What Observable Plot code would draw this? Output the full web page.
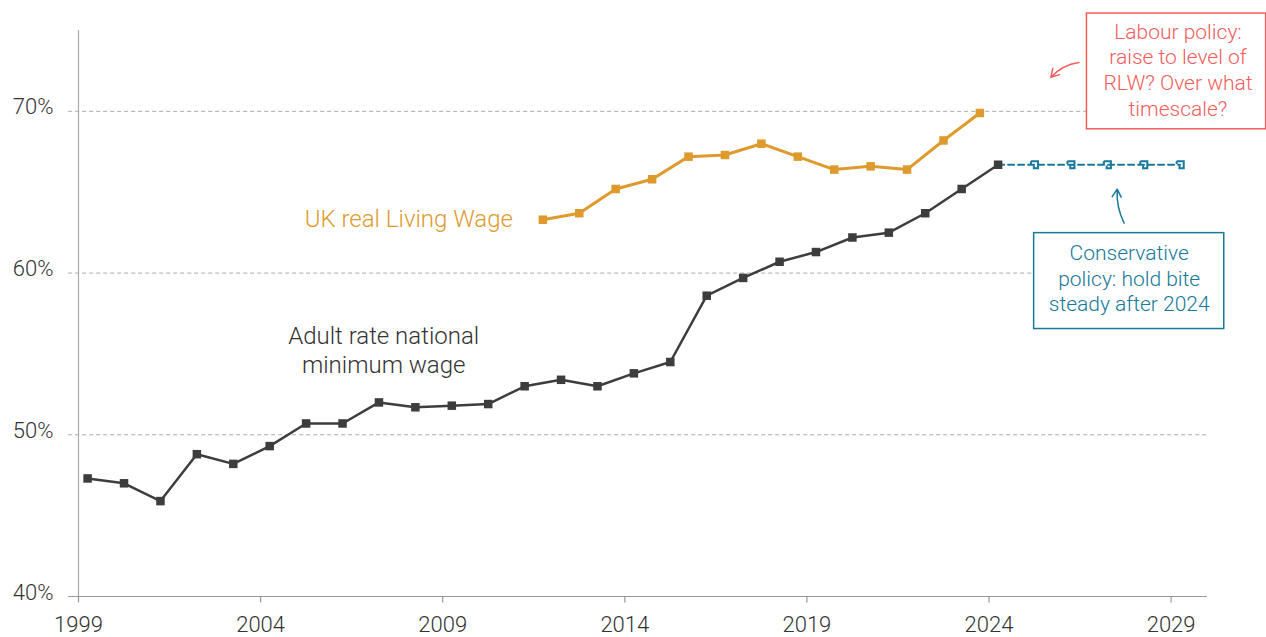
<!DOCTYPE html>
<html><head><meta charset="utf-8">
<script src="https://cdn.jsdelivr.net/npm/d3@7"></script>
<script src="https://cdn.jsdelivr.net/npm/@observablehq/plot@0.6"></script>
<style>
html,body{margin:0;padding:0;background:#fff;}
svg{font-family:Roboto,"Liberation Sans",sans-serif;}
</style></head>
<body><div id="chart"></div>
<script>
const mwYears = [1999,2000,2001,2002,2003,2004,2005,2006,2007,2008,2009,2010,2011,2012,2013,2014,2015,2016,2017,2018,2019,2020,2021,2022,2023,2024];
const mwValues = [47.3,47.0,45.9,48.8,48.2,49.3,50.7,50.7,52.0,51.7,51.8,51.9,53.0,53.4,53.0,53.8,54.5,58.6,59.7,60.7,61.3,62.2,62.5,63.7,65.2,66.7];
const lwYears = [2011,2012,2013,2014,2015,2016,2017,2018,2019,2020,2021,2022,2023];
const lwValues = [63.3,63.7,65.2,65.8,67.2,67.3,68.0,67.2,66.4,66.6,66.4,68.2,69.9];
const projYears = [2024,2025,2026,2027,2028,2029];
const projValues = [66.7,66.7,66.7,66.7,66.7,66.7];
const xTicks = [1999,2004,2009,2014,2019,2024,2029];
const yTicks = [40,50,60,70];
const gridValues = [50,60,70];
const labelLW = ["UK real Living Wage"];
const labelMW = ["Adult rate national\nminimum wage"];
const labourText = ["Labour policy:\nraise to level of\nRLW? Over what\ntimescale?"];
const consText = ["Conservative\npolicy: hold bite\nsteady after 2024"];

const mw = mwYears.map((y,i)=>({x:y+0.25, v:mwValues[i]}));
const lw = lwYears.map((y,i)=>({x:y+0.75, v:lwValues[i]}));
const proj = projYears.map((y,i)=>({x:y+0.25, v:projValues[i]}));

const grey="#3d3d3d", orange="#de9a2c", teal="#16789a", red="#f25c5c";

const openSym = {draw(ctx, size){ const s=Math.sqrt(size)/2; ctx.moveTo(-s,-s); ctx.lineTo(s,-s); ctx.lineTo(s,s); ctx.lineTo(-s*0.2,s); ctx.lineTo(-s*0.2,s*0.2); ctx.moveTo(-s,-s); ctx.lineTo(-s,-s*0.2);}};

const chart = Plot.plot({
  width:1266, height:637,
  marginLeft:78, marginRight:59, marginTop:30, marginBottom:41,
  x:{type:"linear", domain:[1999,2030], axis:null},
  y:{type:"linear", domain:[40,75], axis:null},
  style:{fontFamily:"Roboto, sans-serif", background:"#fff"},
  marks:[
    Plot.ruleY(gridValues,{x1:1998.73,x2:2030,stroke:"#aaa",strokeDasharray:"4,3",strokeWidth:1}),
    Plot.ruleX([1999],{y1:40,y2:75,stroke:"#aaa",strokeWidth:1.2}),
    Plot.ruleY([40],{x1:1998.73,x2:2030,stroke:"#999",strokeWidth:1.2}),
    Plot.ruleX(xTicks,{x:d=>d,y1:39.6,y2:40,stroke:"#999",strokeWidth:1.2}),
    Plot.text(xTicks,{x:d=>d,y:40,dy:28,text:d=>String(d),fontSize:22,fontWeight:300,fill:"#333"}),
    Plot.text(yTicks,{x:1999,y:d=>d,dx:-25,dy:-4,textAnchor:"end",text:d=>d+"%",fontSize:22,fontWeight:300,fill:"#333"}),
    Plot.line(lw,{x:"x",y:"v",stroke:orange,strokeWidth:3}),
    Plot.dot(lw,{x:"x",y:"v",symbol:"square",r:4.8,fill:orange}),
    Plot.line(proj,{x:"x",y:"v",stroke:teal,strokeWidth:2,strokeDasharray:"6,4"}),
    Plot.dot(proj.slice(1),{x:"x",y:"v",symbol:openSym,r:4,stroke:teal,strokeWidth:2,fill:"none"}),
    Plot.line(mw,{x:"x",y:"v",stroke:grey,strokeWidth:2.5}),
    Plot.dot(mw,{x:"x",y:"v",symbol:"square",r:4.8,fill:grey}),
    Plot.text(labelLW,{x:2008.07,y:63.33,text:d=>d,fontSize:24,fontWeight:300,fill:orange}),
    Plot.text(labelMW,{x:2007.38,y:55.3,text:d=>d,fontSize:24,fontWeight:300,fill:"#333",lineHeight:1.2}),
    Plot.rect(labourText,{x1:2026.69,x2:2031.61,y1:68.89,y2:76.05,fill:"white",stroke:red,strokeWidth:1.5}),
    Plot.text(labourText,{x:2029.19,y:72.62,text:d=>d,fontSize:21,fontWeight:300,fill:red,lineHeight:1.22}),
    Plot.rect(consText,{x1:2025.24,x2:2030.46,y1:56.54,y2:62.47,fill:"white",stroke:teal,strokeWidth:1.5}),
    Plot.text(consText,{x:2027.85,y:59.72,text:d=>d,fontSize:21,fontWeight:300,fill:teal,lineHeight:1.22}),
    Plot.arrow([0],{x1:2026.47,y1:73.02,x2:2025.70,y2:72.10,stroke:red,strokeWidth:1.5,bend:-20,headLength:9}),
    Plot.arrow([0],{x1:2027.71,y1:63.09,x2:2027.52,y2:65.19,stroke:teal,strokeWidth:1.5,bend:15,headLength:9})
  ]
});
document.getElementById("chart").appendChild(chart);
</script></body></html>
